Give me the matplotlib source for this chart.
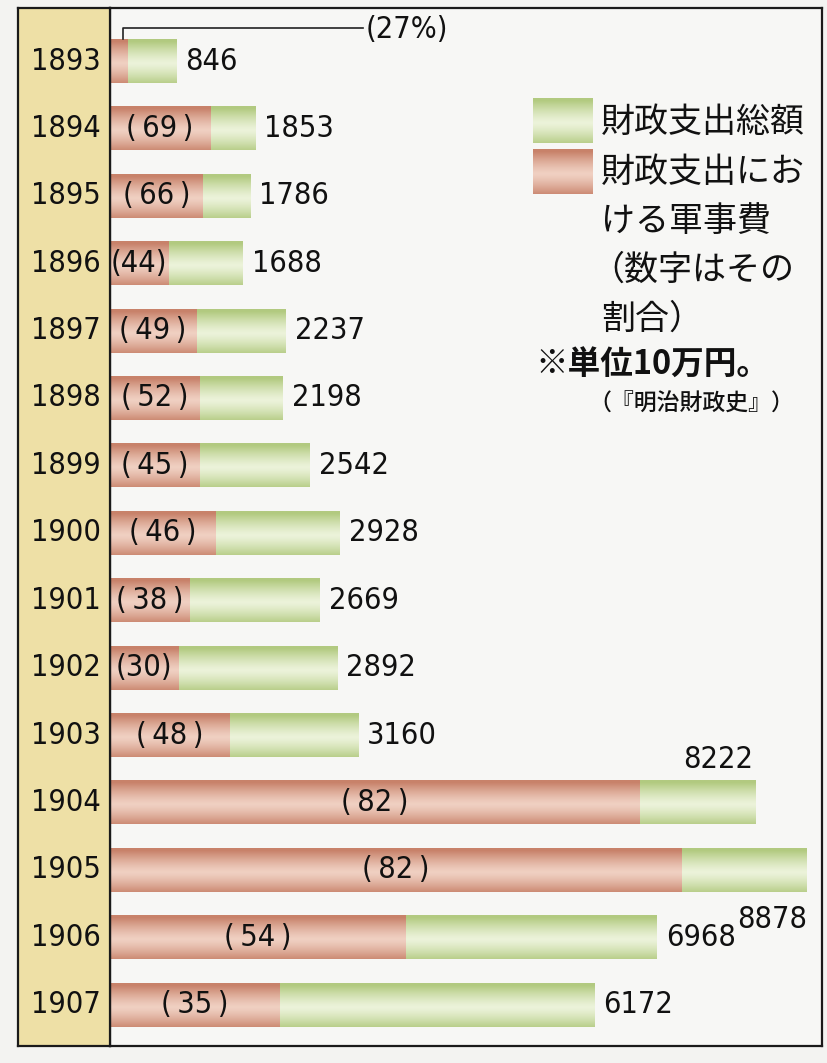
import numpy as np
import matplotlib
matplotlib.use("Agg")
import matplotlib.pyplot as plt
from matplotlib import font_manager
from matplotlib.font_manager import FontProperties

# data (unit: 10万円), share of military spending in %
years = [1893, 1894, 1895, 1896, 1897, 1898, 1899, 1900,
         1901, 1902, 1903, 1904, 1905, 1906, 1907]
total = [846, 1853, 1786, 1688, 2237, 2198, 2542, 2928,
         2669, 2892, 3160, 8222, 8878, 6968, 6172]
mil_pct = [27, 69, 66, 44, 49, 52, 45, 46, 38, 30, 48, 82, 82, 54, 35]

legend_total = "財政支出総額"
legend_mil = ["財政支出にお", "ける軍事費", "（数字はその", "割合）"]
note_unit = "※単位10万円。"
note_src = "（『明治財政史』）"

# pick a narrow face for the numbers if one is installed
flist = font_manager.fontManager.ttflist
num_prop = None
for key in ["LiberationSansNarrow-Regular", "DejaVuSansCondensed.", "RobotoCondensed-Regular",
            "Roboto_Condensed", "Roboto-Regular"]:
    hits = [f for f in flist if key in f.fname]
    if hits:
        num_prop = FontProperties(fname=hits[0].fname)
        break
if num_prop is None:
    num_prop = FontProperties(family="Roboto")
JP = ["Noto Sans CJK JP", "DejaVu Sans"]

green_edge = np.array([178, 202, 128]) / 255
green_mid = np.array([236, 243, 218]) / 255
red_edge = np.array([200, 130, 106]) / 255
red_mid = np.array([240, 208, 194]) / 255
tan = "#eee0a6"
bg = "#f7f7f5"

W, H = 828, 1063
fig = plt.figure(figsize=(W / 100, H / 100), dpi=100, facecolor="#f3f3f1")

def fx(px):
    return px / W

def fy(px):
    return 1 - px / H

# font size so that a 4-digit number is about as wide as in the reference
rend = fig.canvas.get_renderer()
probe = fig.text(0, 0, "1893", fontproperties=num_prop, fontsize=26)
fs = min(28.0, 26 * 70 / probe.get_window_extent(rend).width)
probe.remove()

top_px, bot_px = 8, 1046
ax = fig.add_axes([fx(110), fy(bot_px), fx(822 - 110), (bot_px - top_px) / H])
side = fig.add_axes([fx(18), fy(bot_px), fx(110 - 18), (bot_px - top_px) / H], sharey=ax)

row = 67.4
first = 61
ylim = ((bot_px - first) / row, (top_px - first) / row)
xmax = 712 / 0.0785

mil = [t * p / 100 for t, p in zip(total, mil_pct)]
ypos = np.arange(len(years))
bh = 0.65


def grad_img(edge, mid):
    t = np.linspace(0, 1, 60)
    w = np.clip(1 - np.abs(2 * t - 1.1) ** 1.3, 0, 1)
    cols = edge[None, :] + (mid - edge)[None, :] * w[:, None]
    return np.repeat(cols[:, None, :], 2, axis=1)


def gradient_fill(a, patch, edge, mid):
    x0, y0 = patch.get_x(), patch.get_y()
    a.imshow(grad_img(edge, mid),
             extent=(x0, x0 + patch.get_width(), y0 + patch.get_height(), y0),
             aspect="auto", interpolation="bilinear", zorder=2)
    patch.set_visible(False)


bars_tot = ax.barh(ypos, total, height=bh)
bars_mil = ax.barh(ypos, mil, height=bh)
for p in bars_tot:
    gradient_fill(ax, p, green_edge, green_mid)
for p in bars_mil:
    gradient_fill(ax, p, red_edge, red_mid)

ax.set_xlim(0, xmax)
ax.set_ylim(*ylim)
ax.set_facecolor(bg)
ax.set_xticks([])
ax.set_yticks([])
for s in ax.spines.values():
    s.set_linewidth(1.6)
    s.set_color("#1a1a1a")

side.set_facecolor(tan)
side.set_xlim(0, 1)
side.set_xticks([])
side.tick_params(left=False, labelleft=False)
for s in side.spines.values():
    s.set_linewidth(1.6)
    s.set_color("#1a1a1a")

ink = "#111111"
for y, yr in zip(ypos, years):
    side.text(0.9, y, str(yr), ha="right", va="center", fontsize=fs,
              fontproperties=num_prop, color=ink)

px = xmax / 712  # data units per pixel
for i, (t, m, p) in enumerate(zip(total, mil, mil_pct)):
    if i == 0:
        # small share: label outside with a leader line
        lx = m * 0.7
        ax.plot([lx, lx, 253 * px], [-bh / 2, -0.49, -0.49], color="#222222", lw=1.2, zorder=3)
        ax.text(256 * px, -0.47, f"({p}%)", ha="left", va="center", fontsize=fs,
                fontproperties=num_prop, color=ink)
    else:
        lab = f"(\u2009{p}\u2009)" if m > 70 * px else f"({p})"
        ax.text(m / 2, i, lab, ha="center", va="center", fontsize=fs,
                fontproperties=num_prop, color=ink, zorder=4)
    yr = years[i]
    if yr == 1904:
        ax.text(t - 2 * px, i - bh / 2 - 0.1, str(t), ha="right", va="bottom",
                fontsize=fs, fontproperties=num_prop, color=ink)
    elif yr == 1905:
        ax.text(t, i + bh / 2 + 0.2, str(t), ha="right", va="top",
                fontsize=fs, fontproperties=num_prop, color=ink)
    else:
        ax.text(t + 9 * px, i, str(t), ha="left", va="center", fontsize=fs,
                fontproperties=num_prop, color=ink)

# legend swatches and text
def swatch(y0_px, edge, mid):
    sa = fig.add_axes([fx(533), fy(y0_px + 45), fx(60), 45 / H])
    sa.imshow(grad_img(edge, mid), aspect="auto", interpolation="bilinear")
    sa.axis("off")

swatch(98, green_edge, green_mid)
swatch(149, red_edge, red_mid)

lfs = 24.5
fig.text(fx(601), fy(122), legend_total, ha="left", va="center", fontsize=lfs,
         family=JP, color=ink)
for k, line in enumerate(legend_mil):
    xoff = 601 if not line.startswith("（") else 590
    fig.text(fx(xoff), fy(172 + 49 * k), line, ha="left", va="center",
             fontsize=lfs, family=JP, color=ink)
fig.text(fx(535), fy(365), note_unit, ha="left", va="center", fontsize=23.5,
         family=JP, weight="bold", color=ink)
fig.text(fx(588), fy(404), note_src, ha="left", va="center", fontsize=16.5,
         family=JP, weight="medium", color=ink)

fig.savefig("out.png", dpi=100, facecolor=fig.get_facecolor())
